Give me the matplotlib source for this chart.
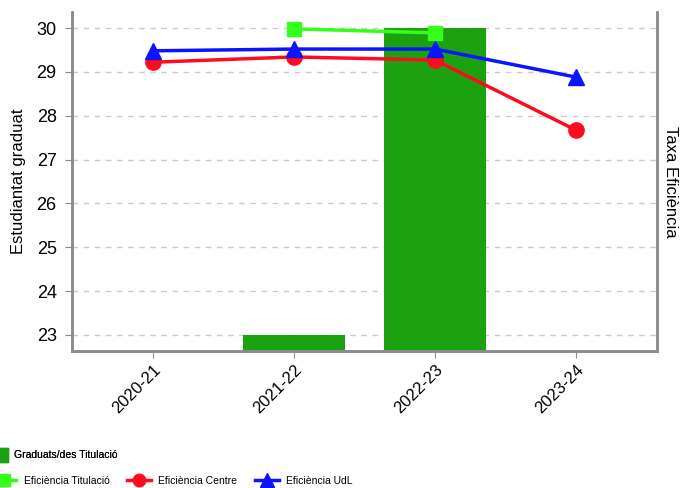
import numpy as np
import matplotlib
matplotlib.use("Agg")
import matplotlib.pyplot as plt
from matplotlib.lines import Line2D
from matplotlib.patches import Patch

plt.rcParams['font.family'] = ['Liberation Sans', 'DejaVu Sans']

# data
cursos = ['2020-21', '2021-22', '2022-23', '2023-24']
graduats = [np.nan, 23, 30, np.nan]
eficiencia_titulacio = [np.nan, 29.98, 29.89, np.nan]
eficiencia_centre = [29.22, 29.34, 29.27, 27.67]
eficiencia_udl = [29.48, 29.52, 29.52, 28.88]

bar_color = '#1ca210'
tit_color = '#33ff1a'
centre_color = '#ff0a1e'
udl_color = '#0a14ff'
spine_color = '#8c8c8c'

fig = plt.figure(figsize=(6.8, 4.88), dpi=100)
ax = fig.add_axes([72 / 680, 1 - 351 / 488, (657 - 72) / 680, (351 - 12) / 488])

x = np.arange(len(cursos))
ylim = (22.635, 30.365)

ax.bar(x, graduats, width=0.72, color=bar_color, zorder=2)
ax.set_ylim(*ylim)
ax.set_xlim(-0.574, 3.574)
ax.set_yticks(range(23, 31))
ax.yaxis.grid(True, linestyle=(0, (4, 4)), color='#cccccc', linewidth=1, zorder=0)
ax.set_axisbelow(True)
ax.set_xticks(x)
ax.set_xticklabels(cursos, rotation=45, ha='right', rotation_mode='anchor', fontsize=12)
ax.tick_params(axis='y', labelsize=13, length=5, color=spine_color, pad=6)
ax.tick_params(axis='x', length=5, color=spine_color, pad=3)
ax.set_ylabel('Estudiantat graduat', fontsize=12, va='center')
ax.yaxis.set_label_coords(-0.092, 0.5)

# efficiency lines on a twin axis sharing the same scale
ax2 = ax.twinx()
ax2.set_ylim(*ylim)
ax2.set_yticks([])
ax2.plot(x, eficiencia_titulacio, color=tit_color, lw=2.5, marker='s', ms=10, zorder=3)
ax2.plot(x, eficiencia_centre, color=centre_color, lw=2.5, marker='o', ms=11, zorder=4)
ax2.plot(x, eficiencia_udl, color=udl_color, lw=2.5, marker='^', ms=11, zorder=5)
ax2.set_ylabel('Taxa Eficiència', fontsize=12, rotation=270, va='center')
ax2.yaxis.set_label_coords(1.023, 0.5)

for a in (ax, ax2):
    a.spines['top'].set_visible(False)
    for s in ('left', 'right', 'bottom'):
        a.spines[s].set_color(spine_color)
        a.spines[s].set_linewidth(1.8)

# legends at the bottom
leg1 = fig.legend(handles=[Patch(color=bar_color, label='Graduats/des Titulació')],
                  loc='center left', bbox_to_anchor=(-0.0176, 1 - 455 / 488),
                  frameon=False, fontsize=7.5, handlelength=1.0, handleheight=1.7,
                  handletextpad=0.6)
line_handles = [
    Line2D([], [], color=tit_color, lw=2.5, marker='s', ms=9, label='Eficiència Titulació'),
    Line2D([], [], color=centre_color, lw=2.5, marker='o', ms=9, label='Eficiència Centre'),
    Line2D([], [], color=udl_color, lw=2.5, marker='^', ms=10, label='Eficiència UdL'),
]
fig.legend(handles=line_handles, loc='center left', bbox_to_anchor=(-0.025, 1 - 481 / 488),
           ncol=3, frameon=False, fontsize=7.5, handlelength=2.3, columnspacing=1.7,
           handletextpad=0.7)
fig.add_artist(leg1)

fig.savefig('out.png', dpi=100)
